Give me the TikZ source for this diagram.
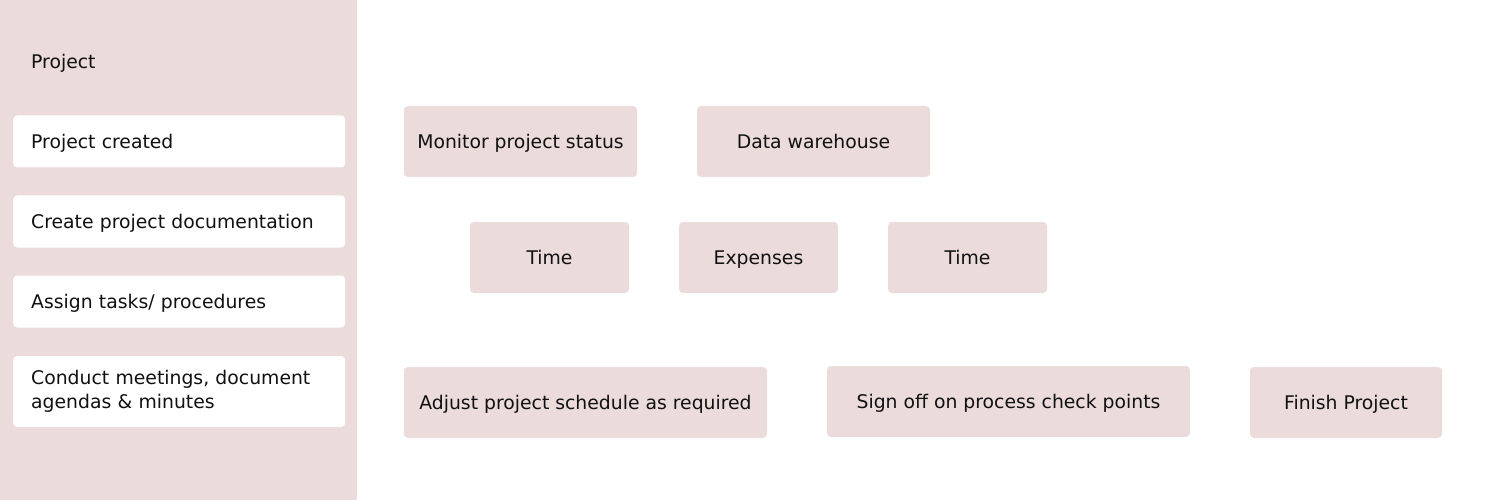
\documentclass[tikz,border=0pt]{standalone}
\usepackage{fontspec}
\setmainfont{DejaVu Sans}
\definecolor{panel}{HTML}{EBDBDB}
\definecolor{txt}{HTML}{111111}
\tikzset{
  capc/.style={text height=13.6pt, text depth=0pt},
  side/.style={fill=white, rounded corners=4pt, draw=none, anchor=west,
    minimum width=332pt, minimum height=52pt, inner xsep=18pt,
    text width=296pt, align=left, text=txt,
    font=\fontsize{18.8}{24}\selectfont},
  pbox/.style={fill=panel, rounded corners=4pt, draw=none, capc,
    minimum height=71pt, inner sep=0pt, text=txt,
    font=\fontsize{18.8}{24}\selectfont}
}
\begin{document}
\begin{tikzpicture}[x=1pt,y=-1pt]
\useasboundingbox (0,0) rectangle (1500,500);
\fill[panel] (0,0) rectangle (357,500);
\node[anchor=west, inner sep=0pt, capc, text=txt, font=\fontsize{18.8}{24}\selectfont] (proj) at (31,61.5) {Project};
\node[side, capc] (s1) at (13,141.5) {Project created};
\node[side, capc] (s2) at (13,221.5) {Create project documentation};
\node[side, capc] (s3) at (13,301.5) {Assign tasks/ procedures};
\node[side, minimum height=71pt] (s4) at (13,391.5) {Conduct meetings, document\\agendas \& minutes};

\node[pbox, minimum width=233pt] (mon) at (520.5,141.5) {Monitor project status};
\node[pbox, minimum width=233pt] (dw) at (813.5,141.5) {Data warehouse};
\node[pbox, minimum width=159pt] (t1) at (549.5,257.5) {Time};
\node[pbox, minimum width=159pt] (exp) at (758.5,257.5) {Expenses};
\node[pbox, minimum width=159pt] (t2) at (967.5,257.5) {Time};
\node[pbox, minimum width=363pt] (adj) at (585.5,402.5) {Adjust project schedule as required};
\node[pbox, minimum width=363pt] (sign) at (1008.5,401.5) {Sign off on process check points};
\node[pbox, minimum width=192pt] (fin) at (1346,402.5) {Finish Project};
\end{tikzpicture}
\end{document}
